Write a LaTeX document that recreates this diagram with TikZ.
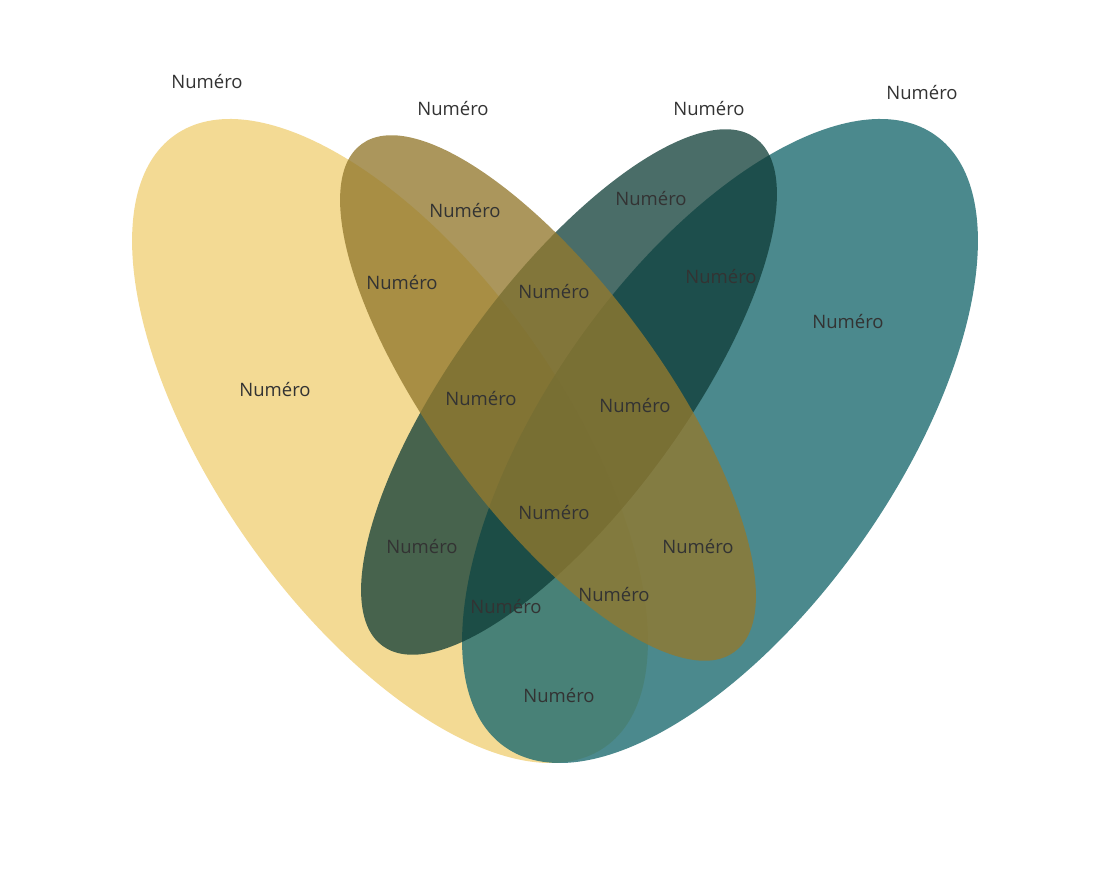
\documentclass[tikz,border=0pt]{standalone}
\usepackage{fontspec}
\setmainfont{Open Sans}
\begin{document}
\begin{tikzpicture}[x=1pt,y=1pt,
  lbl/.style={text=black!80, font=\fontsize{18.5}{20}\selectfont, inner sep=0pt}]
\useasboundingbox (0,0) rectangle (1110,882);
\definecolor{cyel}{HTML}{F3DA94}
\definecolor{cteal}{HTML}{1E6B70}
\definecolor{ctan}{HTML}{93792E}
\definecolor{cgrn}{HTML}{0E3C36}
\fill[cyel, shift={(390,441)}, rotate=-54.9] (0,0) ellipse (374 and 174);
\fill[cteal, opacity=0.8, shift={(720,441)}, rotate=54.9] (0,0) ellipse (374 and 174);
\fill[cgrn, opacity=0.75, shift={(569,490)}, rotate=53.7] (0,0) ellipse (315 and 114);
\fill[ctan, opacity=0.78, shift={(548,484)}, rotate=-53.7] (0,0) ellipse (315 and 114);
\foreach \x/\y [count=\i] in {207/82,453/109,709/109,922/93,465/211,651/199,402/283,554/292,721/277,275/390,848/322,481/399,635/406,554/513,422/547,698/547,506/607,614/595,559/696}
  \node[lbl] (l\i) at (\x,882-\y) {Numéro};
\end{tikzpicture}
\end{document}
